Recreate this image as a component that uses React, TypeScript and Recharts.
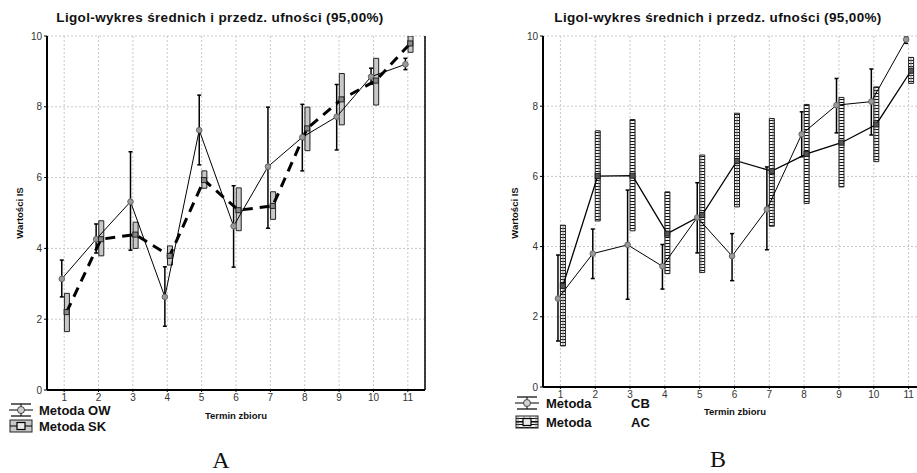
import React from 'react';
import { ComposedChart, Line, Bar, XAxis, YAxis, CartesianGrid, ErrorBar } from 'recharts';

const FONT = 'Arial, "Liberation Sans", Helvetica, sans-serif';

const TITLE = 'Ligol-wykres średnich i przedz. ufności (95,00%)';
const Y_LABEL = 'Wartości IS';
const X_LABEL = 'Termin zbioru';

// Termin zbioru
const terms = [1, 2, 3, 4, 5, 6, 7, 8, 9, 10, 11];
const yTicks = [0, 2, 4, 6, 8, 10];
const rightTicks = [0, 1.667, 3.333, 5, 6.667, 8.333, 10];

// A: Metoda OW (circles, whiskers)
const owMean = [3.14, 4.26, 5.32, 2.63, 7.34, 4.63, 6.31, 7.14, 7.72, 8.85, 9.2];
const owLow = [2.63, 3.87, 3.95, 1.8, 6.36, 3.47, 4.57, 6.19, 6.78, 8.64, 9.05];
const owHigh = [3.67, 4.69, 6.73, 3.48, 8.33, 5.77, 7.99, 8.07, 8.63, 9.09, 9.37];
// A: Metoda SK (squares, boxes)
const skMean = [2.2, 4.26, 4.39, 3.79, 5.93, 5.08, 5.2, 7.39, 8.21, 8.74, 9.79];
const skLow = [1.65, 3.79, 4.0, 3.53, 5.7, 4.5, 4.82, 6.76, 7.49, 8.05, 9.54];
const skHigh = [2.73, 4.78, 4.74, 4.07, 6.19, 5.71, 5.6, 7.99, 8.94, 9.37, 10.0];

// B: Metoda CB (circles, whiskers)
const cbMean = [2.52, 3.8, 4.05, 3.44, 4.83, 3.73, 5.06, 7.2, 8.03, 8.13, 9.9];
const cbLow = [1.31, 3.09, 2.5, 2.79, 3.82, 3.03, 3.91, 6.56, 7.24, 7.18, 9.79];
const cbHigh = [3.76, 4.5, 5.61, 4.06, 5.82, 4.37, 6.27, 7.84, 8.79, 9.06, 9.97];
// B: Metoda AC (squares, boxes)
const acMean = [2.88, 6.01, 6.02, 4.37, 4.9, 6.44, 6.15, 6.64, 6.96, 7.48, 9.01];
const acLow = [1.17, 4.73, 4.45, 3.23, 3.26, 5.13, 4.58, 5.23, 5.7, 6.42, 8.65];
const acHigh = [4.61, 7.3, 7.62, 5.56, 6.61, 7.8, 7.65, 8.05, 8.25, 8.55, 9.39];

// the two series sit a little left / right of each term
const SHIFT = 0.07;

function buildRows(cMean: number[], cLow: number[], cHigh: number[], bMean: number[], bLow: number[], bHigh: number[]) {
  return terms.map((t, i) => ({
    term: t,
    xc: t - SHIFT,
    xb: t + SHIFT,
    cMean: cMean[i],
    cErr: [cMean[i] - cLow[i], cHigh[i] - cMean[i]],
    bMean: bMean[i],
    bRange: [bLow[i], bHigh[i]],
  }));
}

const rowsA = buildRows(owMean, owLow, owHigh, skMean, skLow, skHigh);
const rowsB = buildRows(cbMean, cbLow, cbHigh, acMean, acLow, acHigh);

const squareDot = (fill: string) => (props: any) => {
  const { cx, cy, index } = props;
  if (cx == null || cy == null) return <g key={`sq-${index}`} />;
  return <rect key={`sq-${index}`} x={cx - 2.5} y={cy - 2.5} width={5} height={5} fill={fill} stroke="#222" strokeWidth={1} />;
};

type PanelProps = {
  rows: any[];
  left: number;
  width: number;
  yAxisWidth: number;
  rightMargin: number;
  bottomSpace: number;
  boxFill: string;
  dashed: boolean;
  squareFill: string;
  tickMargin: number;
};

function Panel({ rows, left, width, yAxisWidth, rightMargin, bottomSpace, boxFill, dashed, squareFill, tickMargin }: PanelProps) {
  const tickStyle = { fontSize: 10, fill: '#333', fontFamily: FONT };
  return (
    <div style={{ position: 'absolute', left, top: 0 }}>
      <ComposedChart
        width={width}
        height={473}
        data={rows}
        margin={{ top: 36, right: rightMargin, bottom: bottomSpace - 20, left: 0 }}
      >
        <CartesianGrid stroke="#c8c8c8" strokeDasharray="2 2" />
        <XAxis
          dataKey="term"
          type="number"
          domain={[0.5, 11.5]}
          ticks={terms}
          interval={0}
          allowDataOverflow
          tickSize={2}
          tickLine={{ stroke: '#000' }}
          tickMargin={tickMargin}
          tick={tickStyle}
          axisLine={{ stroke: '#000', strokeWidth: 2 }}
          height={20}
        />
        <XAxis
          xAxisId="top"
          orientation="top"
          dataKey="term"
          type="number"
          domain={[0.5, 11.5]}
          ticks={terms}
          interval={0}
          allowDataOverflow
          tick={false}
          tickSize={2}
          tickLine={{ stroke: '#000' }}
          axisLine={{ stroke: '#000', strokeWidth: 1.5 }}
          height={0}
        />
        <XAxis xAxisId="c" dataKey="xc" type="number" domain={[0.5, 11.5]} allowDataOverflow hide />
        <XAxis xAxisId="b" dataKey="xb" type="number" domain={[0.5, 11.5]} allowDataOverflow hide />
        <YAxis
          domain={[0, 10]}
          ticks={yTicks}
          interval={0}
          allowDataOverflow
          width={yAxisWidth}
          tickSize={3}
          tickMargin={2}
          tick={tickStyle}
          tickLine={{ stroke: '#000' }}
          axisLine={{ stroke: '#000', strokeWidth: 2 }}
        />
        <YAxis
          yAxisId="right"
          orientation="right"
          domain={[0, 10]}
          ticks={rightTicks}
          interval={0}
          allowDataOverflow
          width={5}
          tick={false}
          tickSize={3}
          tickLine={{ stroke: '#000' }}
          axisLine={{ stroke: '#000', strokeWidth: 1.5 }}
        />
        <Bar
          xAxisId="b"
          dataKey="bRange"
          barSize={5}
          fill={boxFill}
          stroke="#222"
          strokeWidth={1}
          isAnimationActive={false}
        />
        <Line
          xAxisId="c"
          dataKey="cMean"
          stroke="#000"
          strokeWidth={1}
          dot={{ r: 2.8, fill: '#9a9a9a', stroke: '#666', strokeWidth: 1 }}
          activeDot={false}
          isAnimationActive={false}
        >
          <ErrorBar dataKey="cErr" direction="y" width={2} stroke="#000" strokeWidth={1.5} />
        </Line>
        <Line
          xAxisId="b"
          dataKey="bMean"
          stroke="#000"
          strokeWidth={dashed ? 3 : 1.3}
          strokeDasharray={dashed ? '10 7' : undefined}
          dot={squareDot(squareFill)}
          activeDot={false}
          isAnimationActive={false}
        />
      </ComposedChart>
    </div>
  );
}

function Txt({ x, y, size, bold, rotate, serif, align, spacing, children }: any) {
  const shift = align === 'left' ? 'translate(0,-50%)' : 'translate(-50%,-50%)';
  return (
    <div
      style={{
        position: 'absolute',
        left: x,
        top: y,
        transform: `${shift}${rotate ? ` rotate(${rotate}deg)` : ''}`,
        fontFamily: serif ? '"Times New Roman", "Liberation Serif", serif' : FONT,
        fontSize: size,
        fontWeight: bold ? 700 : 400,
        letterSpacing: spacing || 0,
        color: '#111',
        whiteSpace: 'nowrap',
        lineHeight: 1,
      }}
    >
      {children}
    </div>
  );
}

function WhiskerIcon({ x, y }: { x: number; y: number }) {
  return (
    <svg style={{ position: 'absolute', left: x, top: y - 7 }} width={24} height={14}>
      <line x1={2} y1={1} x2={22} y2={1} stroke="#000" strokeWidth={1.2} />
      <line x1={2} y1={13} x2={22} y2={13} stroke="#000" strokeWidth={1.2} />
      <line x1={0} y1={7} x2={24} y2={7} stroke="#000" strokeWidth={1} />
      <line x1={12} y1={1} x2={12} y2={13} stroke="#000" strokeWidth={1} />
      <circle cx={12} cy={7} r={3.5} fill="#d0d0d0" stroke="#444" strokeWidth={1} />
    </svg>
  );
}

function BoxIcon({ x, y, fill }: { x: number; y: number; fill: string }) {
  return (
    <svg style={{ position: 'absolute', left: x, top: y - 7 }} width={24} height={14}>
      <rect x={1} y={1} width={22} height={12} fill={fill} stroke="#222" strokeWidth={1} />
      <line x1={1} y1={7} x2={23} y2={7} stroke="#000" strokeWidth={1} />
      <rect x={8} y={3.5} width={8} height={7} fill="#e8e8e8" stroke="#000" strokeWidth={1.2} />
    </svg>
  );
}

export default function App() {
  return (
    <div
      style={{
        position: 'absolute',
        left: 0,
        top: 0,
        width: 917,
        height: 473,
        overflow: 'hidden',
        background: '#fff',
      }}
    >
      <svg width={0} height={0} style={{ position: 'absolute' }}>
        <defs>
          <pattern id="ladder" width={6} height={3} patternUnits="userSpaceOnUse">
            <rect x={0} y={0} width={6} height={3} fill="#f4f4f4" />
            <line x1={0} y1={0.5} x2={6} y2={0.5} stroke="#111" strokeWidth={1} />
            <line x1={3} y1={0} x2={3} y2={3} stroke="#777" strokeWidth={0.8} />
          </pattern>
        </defs>
      </svg>

      {/* A */}
      <Panel
        rows={rowsA}
        left={0}
        width={460}
        yAxisWidth={47}
        rightMargin={30}
        bottomSpace={83}
        boxFill="#c8c8c8"
        dashed
        squareFill="#8a8a8a"
        tickMargin={2}
      />
      <Txt x={220} y={18} size={13.5} bold spacing={0.35}>{TITLE}</Txt>
      <Txt x={20} y={213} size={9.5} bold rotate={-90}>{Y_LABEL}</Txt>
      <Txt x={236} y={416} size={9.5} bold>{X_LABEL}</Txt>
      <WhiskerIcon x={9} y={410} />
      <Txt x={39} y={410} size={13} bold align="left">Metoda OW</Txt>
      <BoxIcon x={9} y={426} fill="#c8c8c8" />
      <Txt x={39} y={426} size={13} bold align="left">Metoda SK</Txt>
      <Txt x={221} y={460} size={24} serif>A</Txt>

      {/* B */}
      <Panel
        rows={rowsB}
        left={500}
        width={431}
        yAxisWidth={43}
        rightMargin={0}
        bottomSpace={86}
        boxFill="url(#ladder)"
        dashed={false}
        squareFill="#555"
        tickMargin={2}
      />
      <Txt x={718} y={18} size={13.5} bold spacing={0.35}>{TITLE}</Txt>
      <Txt x={515} y={213} size={9.5} bold rotate={-90}>{Y_LABEL}</Txt>
      <Txt x={735} y={412} size={9.5} bold>{X_LABEL}</Txt>
      <WhiskerIcon x={515} y={403} />
      <Txt x={546} y={403} size={13} bold align="left">Metoda</Txt>
      <Txt x={631} y={403} size={13} bold align="left">CB</Txt>
      <BoxIcon x={515} y={422} fill="url(#ladder)" />
      <Txt x={546} y={422} size={13} bold align="left">Metoda</Txt>
      <Txt x={631} y={422} size={13} bold align="left">AC</Txt>
      <Txt x={718} y={459} size={24} serif>B</Txt>
    </div>
  );
}
